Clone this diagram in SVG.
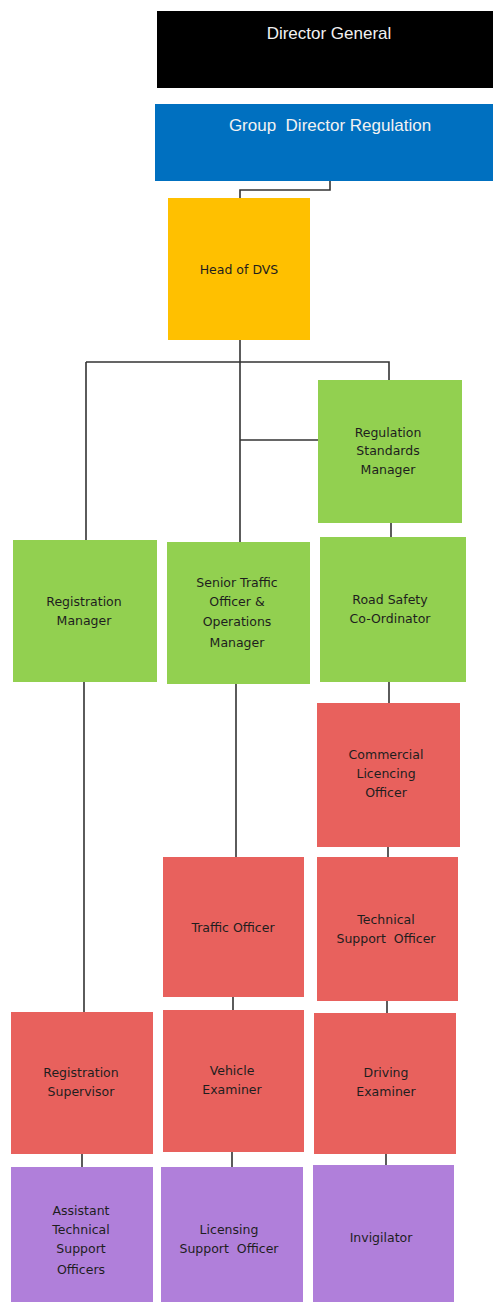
<svg xmlns="http://www.w3.org/2000/svg" width="493" height="1302" viewBox="0 0 493 1302">
<style>
.t{font-family:"DejaVu Sans","Liberation Sans",sans-serif;font-size:12.5px;fill:#1e1e1e;text-anchor:middle;white-space:pre}
.h{font-family:"Liberation Sans",Arial,sans-serif;font-size:17px;fill:#f2f2f2;text-anchor:middle;white-space:pre}
.g{fill:#92D050}.r{fill:#E8615D}.p{fill:#B07FDA}
.c{fill:none;stroke:#333;stroke-width:1.6}
</style>
<g id="connectors">
<path class="c" d="M330 181V190H240V198"/>
<path class="c" d="M240 340V542"/>
<path class="c" d="M86 362H389V380"/>
<path class="c" d="M86 362V540"/>
<path class="c" d="M240 440H318"/>
<path class="c" d="M391 523V537"/>
<path class="c" d="M84 682V1012"/>
<path class="c" d="M236 684V857"/>
<path class="c" d="M389 682V703"/>
<path class="c" d="M388 847V857"/>
<path class="c" d="M233 997V1010"/>
<path class="c" d="M387 1001V1013"/>
<path class="c" d="M82 1154V1167"/>
<path class="c" d="M232 1152V1167"/>
<path class="c" d="M386 1154V1165"/>
</g>
<g id="director-general"><rect x="157" y="11" width="336" height="77" fill="#000"/><text class="h" x="329" y="39">Director General</text></g>
<g id="group-director-regulation"><rect x="155" y="104" width="338" height="77" fill="#0070C0"/><text class="h" x="330" y="131">Group  Director Regulation</text></g>
<g id="head-of-dvs"><rect x="168" y="198" width="142" height="142" fill="#FFC000"/><text class="t" x="239" y="274">Head of DVS</text></g>
<g id="regulation-standards-manager"><rect class="g" x="318" y="380" width="144" height="143"/><text class="t" x="388" y="437">Regulation</text><text class="t" x="388" y="455">Standards</text><text class="t" x="388" y="474">Manager</text></g>
<g id="registration-manager"><rect class="g" x="13" y="540" width="144" height="142"/><text class="t" x="84" y="606">Registration</text><text class="t" x="84" y="625">Manager</text></g>
<g id="senior-traffic-officer"><rect class="g" x="167" y="542" width="143" height="142"/><text class="t" x="237" y="587">Senior Traffic</text><text class="t" x="237" y="606">Officer &amp;</text><text class="t" x="237" y="626">Operations</text><text class="t" x="237" y="647">Manager</text></g>
<g id="road-safety-coordinator"><rect class="g" x="320" y="537" width="146" height="145"/><text class="t" x="390" y="604">Road Safety</text><text class="t" x="390" y="623">Co-Ordinator</text></g>
<g id="commercial-licencing-officer"><rect class="r" x="317" y="703" width="143" height="144"/><text class="t" x="386" y="759">Commercial</text><text class="t" x="386" y="778">Licencing</text><text class="t" x="386" y="797">Officer</text></g>
<g id="traffic-officer"><rect class="r" x="163" y="857" width="141" height="140"/><text class="t" x="233" y="932">Traffic Officer</text></g>
<g id="technical-support-officer"><rect class="r" x="317" y="857" width="141" height="144"/><text class="t" x="386" y="924">Technical</text><text class="t" x="386" y="943">Support  Officer</text></g>
<g id="registration-supervisor"><rect class="r" x="11" y="1012" width="142" height="142"/><text class="t" x="81" y="1077">Registration</text><text class="t" x="81" y="1096">Supervisor</text></g>
<g id="vehicle-examiner"><rect class="r" x="163" y="1010" width="141" height="142"/><text class="t" x="232" y="1075">Vehicle</text><text class="t" x="232" y="1094">Examiner</text></g>
<g id="driving-examiner"><rect class="r" x="314" y="1013" width="142" height="141"/><text class="t" x="386" y="1077">Driving</text><text class="t" x="386" y="1096">Examiner</text></g>
<g id="assistant-technical-support-officers"><rect class="p" x="11" y="1167" width="142" height="135"/><text class="t" x="81" y="1215">Assistant</text><text class="t" x="81" y="1234">Technical</text><text class="t" x="81" y="1253">Support</text><text class="t" x="81" y="1274">Officers</text></g>
<g id="licensing-support-officer"><rect class="p" x="161" y="1167" width="142" height="135"/><text class="t" x="229" y="1234">Licensing</text><text class="t" x="229" y="1253">Support  Officer</text></g>
<g id="invigilator"><rect class="p" x="313" y="1165" width="141" height="137"/><text class="t" x="381" y="1242">Invigilator</text></g>
</svg>
